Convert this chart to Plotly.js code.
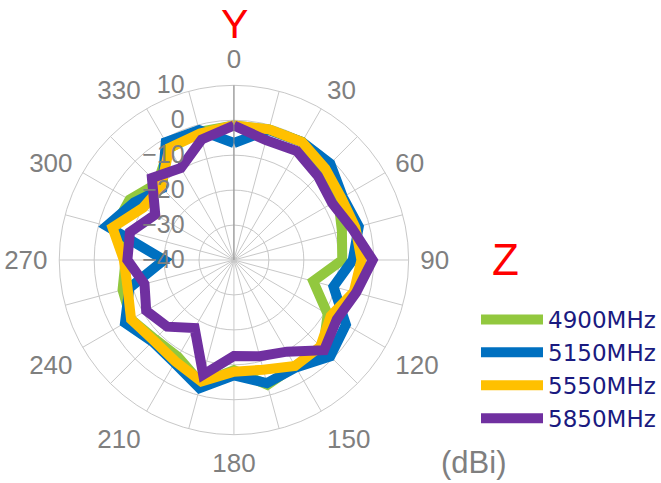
<!DOCTYPE html>
<html><head><meta charset="utf-8">
<script src="https://cdn.plot.ly/plotly-3.0.1.min.js"></script>
<style>html,body{margin:0;padding:0;background:#fff}#chart{width:661px;height:483px}</style>
</head><body><div id="chart"></div>
<script>
const angles = [0,15,30,45,60,75,90,105,120,135,150,165,180,195,210,225,240,255,270,285,300,315,330,345];
const angleLabels = ['0','','30','','60','','90','','120','','150','','180','','210','','240','','270','','300','','330',''];
const radialTicks = [-40,-30,-20,-10,0,10];
const seriesNames = ['4900MHz','5150MHz','5550MHz','5850MHz'];
const g4900 = [-1.5,-1.3,-1,-4,-5.5,-8,-9,-16.5,-9,-4,-5,-3,-8.5,-3.5,-8,-8,-6,-7,-9,-4.5,-5.5,-9,-3,-2];
const g5150 = [-6.5,-1.5,-1,-1,-4,-3,-6,-10.5,-3,-1,-4.5,-3.5,-7,-2,-6,-7,-4,-9,-20,-2.3,-7,-11,-1,-1.5];
const g5550 = [-1.5,-1.3,-1,-3,-4.5,-4,-3.5,-4.5,-8,-5,-5,-7.5,-8,-4,-6.5,-7.5,-6,-8.5,-8.5,-4,-10,-10.5,-3,-2.5];
const g5850 = [-1.5,-4.5,-4,-6,-7.5,-5,-0.3,-3.8,-6,-3.5,-9.7,-11.5,-12.5,-6,-17.5,-13,-11,-13.5,-9.5,-9.2,-14,-6.8,-9.6,-4.3];
const seriesValues = [g4900,g5150,g5550,g5850];
const colors = ['#92c83e','#0070c0','#ffc000','#7030a0'];

const close = a => a.concat([a[0]]);
const traces = seriesValues.map((vals,i)=>({
  type:'scatterpolar', mode:'lines', name:seriesNames[i],
  r: close(vals), theta: close(angles),
  line:{color:colors[i], width:10}
}));

const F = 'Liberation Sans, Arial, sans-serif';
const layout = {
  width:661, height:483, margin:{l:0,r:0,t:0,b:0},
  paper_bgcolor:'#fff', plot_bgcolor:'#fff',
  font:{family:F, color:'#7f7f7f', size:24},
  showlegend:true,
  legend:{x:0.726, y:0.236, xanchor:'left', yanchor:'middle',
          font:{family:'DejaVu Sans, sans-serif',size:23,color:'#1a1a80'},
          tracegroupgap:0, itemwidth:62, bgcolor:'rgba(0,0,0,0)'},
  polar:{
    domain:{x:[0.0903,0.6229], y:[0.0973,0.8261]},
    bgcolor:'#fff',
    gridshape:'linear',
    radialaxis:{range:[-40,10], tickvals:radialTicks, angle:90, side:'counterclockwise',
      tickfont:{family:F,size:25,color:'#7f7f7f'}, showline:true, linecolor:'#8c8c8c', linewidth:1,
      gridcolor:'#c8c8c8', ticks:'outside', ticklen:40, tickcolor:'rgba(0,0,0,0)', tickangle:90},
    angularaxis:{direction:'clockwise', rotation:90, tickvals:angles, ticktext:angleLabels,
      tickfont:{family:F,size:26,color:'#7f7f7f'}, gridcolor:'#c8c8c8', linecolor:'#c8c8c8',
      ticks:'outside', ticklen:6, tickcolor:'rgba(0,0,0,0)', showline:true}
  },
  annotations:[
    {text:'Y', x:236/661, y:1-24/483, xref:'paper', yref:'paper', xanchor:'center', yanchor:'middle', showarrow:false, font:{family:F,size:41,color:'#ff0000'}},
    {text:'Z', x:509/661, y:1-259/483, xref:'paper', yref:'paper', xanchor:'center', yanchor:'middle', showarrow:false, font:{family:F,size:44,color:'#ff0000'}},
    {text:'(dBi)', x:477/661, y:1-462/483, xref:'paper', yref:'paper', xanchor:'center', yanchor:'middle', showarrow:false, font:{family:F,size:31,color:'#7f7f7f'}}
  ]
};
Plotly.newPlot('chart', traces, layout, {displayModeBar:false, staticPlot:true});
</script></body></html>
